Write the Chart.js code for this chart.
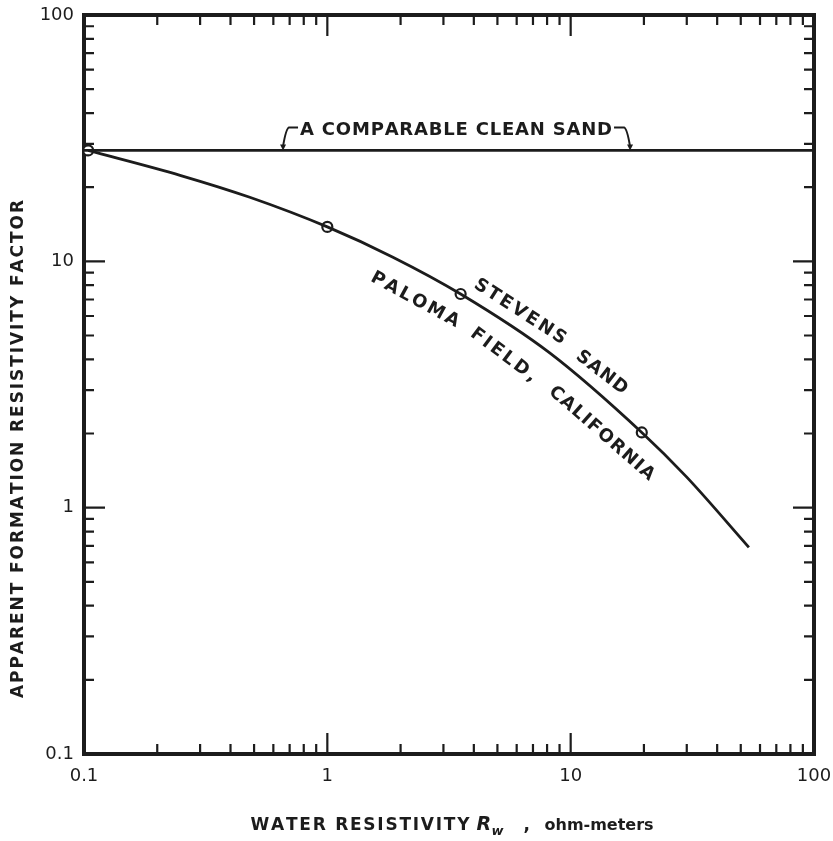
<!DOCTYPE html>
<html><head><meta charset="utf-8">
<script src="https://cdn.jsdelivr.net/npm/chart.js@4/dist/chart.umd.min.js"></script>
<style>html,body{margin:0;padding:0;background:#fff;}#wrap{width:833px;height:841px;}</style>
</head><body><div id="wrap"><canvas id="c" width="833" height="841"></canvas></div>
<script>
// ---- data ----
const curveRw = [0.104, 0.25, 0.48, 1.0, 1.86, 3.53, 8.2, 19.6, 30, 54];
const curveF  = [28.2, 22.3, 18.2, 13.8, 10.4, 7.37, 4.25, 2.02, 1.33, 0.69];
const pointRw = [0.104, 1.0, 3.53, 19.6];
const pointF  = [28.2, 13.8, 7.37, 2.02];
const cleanRw = [0.1, 100];
const cleanF  = [28.2, 28.2];
const tickValues = [0.1, 1, 10, 100];
const tickLabels = ['0.1', '1', '10', '100'];
const cleanLabel = 'A COMPARABLE CLEAN SAND';
const cleanLabelAt = [3.38, 34];
const curveWords   = ['STEVENS', 'SAND', 'PALOMA', 'FIELD,', 'CALIFORNIA'];
const curveWordsRw = [6.19, 13.4, 2.29, 5.29, 13.4];
const curveWordsF  = [6.24, 3.53, 6.97, 4.16, 2.00];
const yTitle = 'APPARENT FORMATION RESISTIVITY FACTOR';
const xTitleMain = 'WATER RESISTIVITY';
const xTitleSym = 'R';
const xTitleSub = 'w';
const xTitleUnit = 'ohm-meters';

// ---- styles ----
const INK = '#1c1c1c';
const FAM = '"DejaVu Sans", sans-serif';
const wordAngles = [32.8, 37.7, 28.6, 36.9, 41.2];
const wordWidths = [106, 60, 98, 78, 134];

function toPts(xs, ys){ return xs.map((x,i)=>({x, y: ys[i]})); }

function drawSpaced(ctx, text, cx, cy, target){
  const chars = [...text];
  const ws = chars.map(c => ctx.measureText(c).width);
  const nat = ws.reduce((a,b)=>a+b,0);
  const tw = Math.max(target, nat);
  const sp = chars.length > 1 ? (tw - nat) / (chars.length - 1) : 0;
  let x = cx - tw/2;
  ctx.textAlign = 'left';
  ctx.textBaseline = 'middle';
  chars.forEach((c,i)=>{ ctx.fillText(c, x, cy); x += ws[i] + sp; });
}

const decor = {
  id: 'decor',
  beforeDatasetsDraw(chart){
    const {ctx, chartArea: a, scales: {x, y}} = chart;
    ctx.save();
    ctx.strokeStyle = INK;
    ctx.lineWidth = 2.2;
    const decades = [0.1, 1, 10];
    const vals = [];
    decades.forEach(d => { for (let m = 1; m <= 9; m++) vals.push({v: m*d, major: m === 1}); });
    vals.forEach(({v, major}) => {
      const L = major ? 21 : 10;
      const px = x.getPixelForValue(v), py = y.getPixelForValue(v);
      if (v > 0.1 + 1e-9) {
        ctx.beginPath();
        ctx.moveTo(px, a.bottom); ctx.lineTo(px, a.bottom - L);
        ctx.moveTo(px, a.top); ctx.lineTo(px, a.top + L);
        ctx.moveTo(a.left, py); ctx.lineTo(a.left + L, py);
        ctx.moveTo(a.right, py); ctx.lineTo(a.right - L, py);
        ctx.stroke();
      }
    });
    ctx.lineWidth = 4;
    ctx.strokeRect(a.left, a.top, a.right - a.left, a.bottom - a.top);
    ctx.restore();
  },
  afterDatasetsDraw(chart){
    const {ctx, chartArea: a, scales: {x, y}} = chart;
    ctx.save();
    ctx.fillStyle = INK; ctx.strokeStyle = INK;
    // clean sand label + hooks
    ctx.font = 'bold 18px ' + FAM;
    const cx = x.getPixelForValue(cleanLabelAt[0]);
    const cy = y.getPixelForValue(cleanLabelAt[1]);
    const lineY = y.getPixelForValue(cleanF[0]);
    const W = 312;
    drawSpaced(ctx, cleanLabel, cx, cy, W);
    const l = cx - W/2, r = cx + W/2;
    ctx.lineWidth = 2;
    ctx.beginPath();
    ctx.moveTo(l - 2, cy - 3); ctx.lineTo(l - 11, cy - 3);
    ctx.quadraticCurveTo(l - 14, cy - 2, l - 17, lineY - 4);
    ctx.moveTo(r + 2, cy - 3); ctx.lineTo(r + 12, cy - 3);
    ctx.quadraticCurveTo(r + 15, cy - 2, r + 18, lineY - 4);
    ctx.stroke();
    [[l - 17, lineY], [r + 18, lineY]].forEach(([ax, ay]) => {
      ctx.beginPath();
      ctx.moveTo(ax - 3, ay - 6); ctx.lineTo(ax + 3, ay - 6); ctx.lineTo(ax, ay); ctx.closePath(); ctx.fill();
    });
    // rotated curve labels
    ctx.font = 'bold 18px ' + FAM;
    curveWords.forEach((w, i) => {
      const px = x.getPixelForValue(curveWordsRw[i]);
      const py = y.getPixelForValue(curveWordsF[i]);
      ctx.save();
      ctx.translate(px, py);
      ctx.rotate(wordAngles[i] * Math.PI / 180);
      drawSpaced(ctx, w, 0, 0, wordWidths[i]);
      ctx.restore();
    });
    // y title
    ctx.save();
    ctx.font = 'bold 17px ' + FAM;
    ctx.translate(19, 449);
    ctx.rotate(-Math.PI/2);
    drawSpaced(ctx, yTitle, 0, 0, 498);
    ctx.restore();
    // x title
    const mid = (a.left + a.right) / 2;
    const start = mid - 198.5;
    const ty = 826;
    ctx.font = 'bold 17px ' + FAM;
    drawSpaced(ctx, xTitleMain, start + 219/2, ty, 219);
    ctx.font = 'italic bold 19px ' + FAM;
    ctx.textAlign = 'left'; ctx.textBaseline = 'middle';
    ctx.fillText(xTitleSym, start + 226, ty - 1);
    ctx.font = 'italic bold 13px ' + FAM;
    ctx.fillText(xTitleSub, start + 241, ty + 6);
    ctx.font = 'bold 17px ' + FAM;
    ctx.fillText(',', start + 273, ty);
    ctx.font = 'bold 16px ' + FAM;
    ctx.textAlign = 'left';
    ctx.fillText(xTitleUnit, start + 294, ty);
    ctx.restore();
  }
};

const axisCommon = {
  type: 'logarithmic', min: 0.1, max: 100,
  grid: { display: false, drawTicks: false },
  border: { display: false },
  afterBuildTicks: s => { s.ticks = tickValues.map(v => ({value: v})); },
  ticks: {
    autoSkip: false, maxRotation: 0, color: INK,
    font: { family: FAM, size: 18 },
    callback: (v) => { const i = tickValues.findIndex(t => Math.abs(t - v) < 1e-9); return i >= 0 ? tickLabels[i] : ''; }
  }
};

new Chart(document.getElementById('c'), {
  type: 'scatter',
  data: {
    datasets: [
      { data: toPts(cleanRw, cleanF), showLine: true, borderColor: INK, borderWidth: 2.8, pointRadius: 0 },
      { data: toPts(curveRw, curveF), showLine: true, borderColor: INK, borderWidth: 2.8, pointRadius: 0, cubicInterpolationMode: 'monotone' },
      { data: toPts(pointRw, pointF), showLine: false, pointRadius: 5, pointBorderWidth: 2.2, pointBorderColor: INK, pointBackgroundColor: '#fff' }
    ]
  },
  options: {
    responsive: false, animation: false, devicePixelRatio: 1,
    layout: { padding: { top: 15, right: 19, left: 0, bottom: 0 } },
    plugins: { legend: { display: false }, tooltip: { enabled: false }, title: { display: false } },
    scales: {
      x: Object.assign({}, axisCommon, { position: 'bottom', ticks: Object.assign({}, axisCommon.ticks, { padding: 12 }),
           afterFit: s => { s.height = 87; s.paddingLeft = 0; s.paddingRight = 0; s.paddingTop = 0; s.paddingBottom = 0; } }),
      y: Object.assign({}, axisCommon, { position: 'left', ticks: Object.assign({}, axisCommon.ticks, { padding: 10 }),
           afterFit: s => { s.width = 84; s.paddingLeft = 0; s.paddingRight = 0; s.paddingTop = 0; s.paddingBottom = 0; } })
    }
  },
  plugins: [decor]
});
</script></body></html>
